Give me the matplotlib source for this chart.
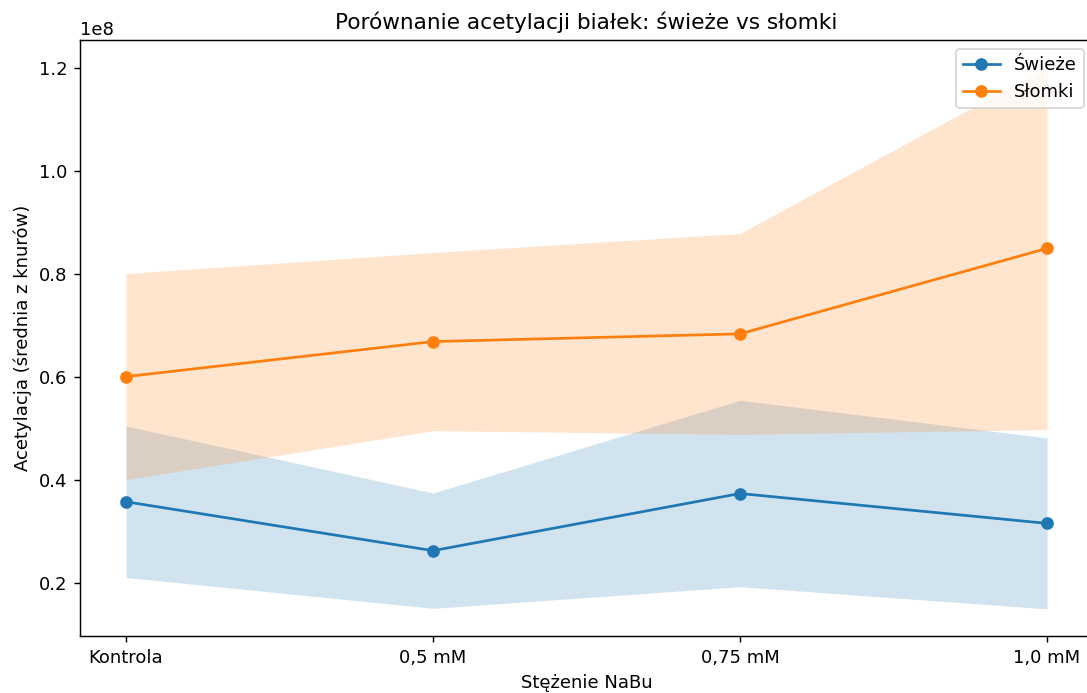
import matplotlib
matplotlib.use("Agg")
import matplotlib.pyplot as plt
import numpy as np

# NaBu concentration groups
categories = ["Kontrola", "0,5 mM", "0,75 mM", "1,0 mM"]

# Mean acetylation across boars and standard deviation
fresh_mean = [0.357e8, 0.262e8, 0.373e8, 0.315e8]
fresh_std = [0.147e8, 0.112e8, 0.181e8, 0.166e8]
straw_mean = [0.600e8, 0.668e8, 0.683e8, 0.849e8]
straw_std = [0.200e8, 0.173e8, 0.195e8, 0.352e8]

series = [
    ("Świeże", fresh_mean, fresh_std, "C0"),
    ("Słomki", straw_mean, straw_std, "C1"),
]

DPI = 130
fig = plt.figure(figsize=(1087 / DPI, 693 / DPI), dpi=DPI)
ax = fig.add_axes([0.0736, 0.0823, 0.932, 0.860])

x = np.arange(len(categories))
for label, mean, std, color in series:
    m = np.array(mean)
    s = np.array(std)
    ax.plot(x, m, marker="o", color=color, label=label, linewidth=1.5)
    ax.fill_between(x, m - s, m + s, color=color, alpha=0.2, linewidth=0)

ax.set_xticks(x)
ax.set_xticklabels(categories)
ax.set_xlabel("Stężenie NaBu")
ax.set_ylabel("Acetylacja (średnia z knurów)")
ax.set_title("Porównanie acetylacji białek: świeże vs słomki")
ax.legend(loc="upper right")

fig.savefig("out.png", dpi=DPI)
